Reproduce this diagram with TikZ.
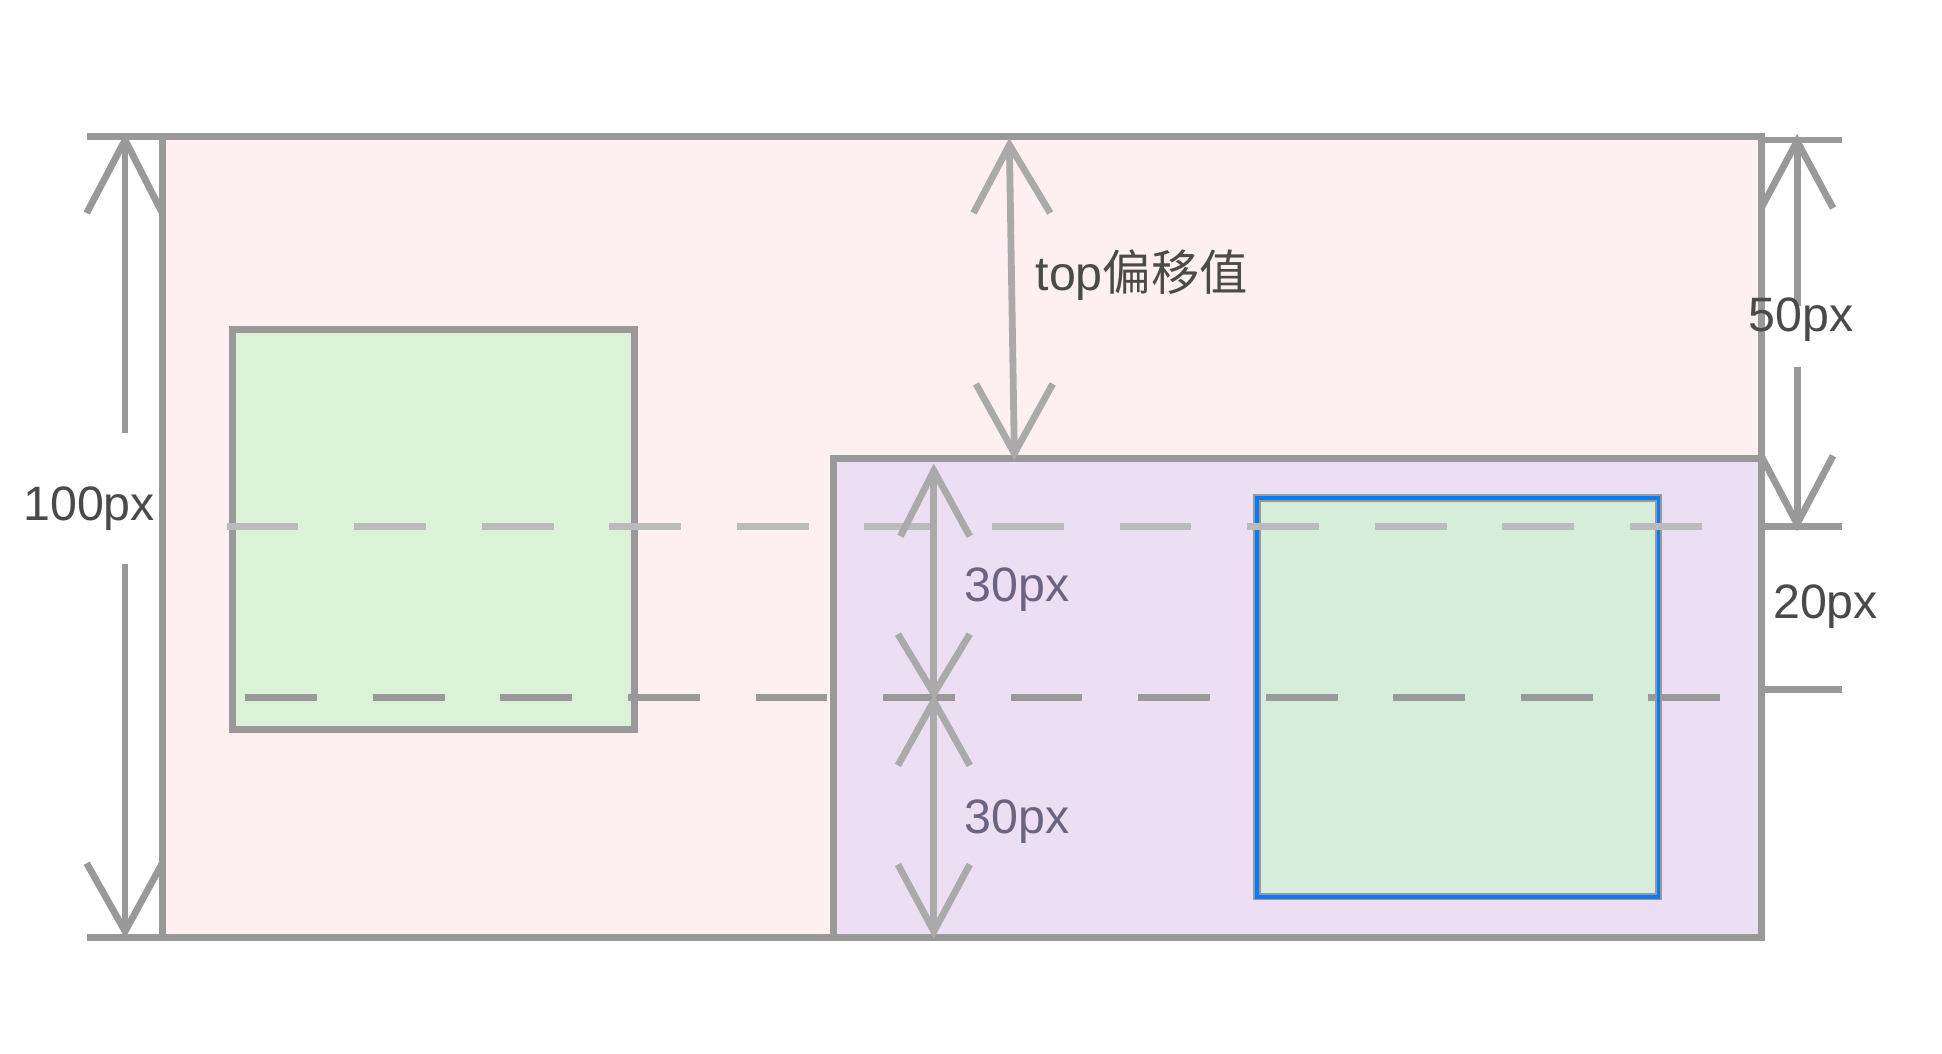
\documentclass[tikz,border=0pt]{standalone}
\usepackage{fontspec}
\setmainfont{Liberation Sans}
\newfontfamily\cjk{Noto Sans CJK SC}
\definecolor{edge}{HTML}{999999}
\definecolor{lightdash}{HTML}{BBBBBB}
\definecolor{arrowc}{HTML}{AAAAAA}
\definecolor{pinkf}{HTML}{FEF0F0}
\definecolor{purplef}{HTML}{ECDFF4}
\definecolor{greenA}{HTML}{DBF2D9}
\definecolor{greenB}{HTML}{D6EDD9}
\definecolor{blueb}{HTML}{0A7BF5}
\definecolor{txt}{HTML}{4A4A4A}
\definecolor{txtp}{HTML}{6B6480}
\begin{document}
\begin{tikzpicture}[x=1pt,y=-1pt,
  boxline/.style={draw=edge,line width=5.5pt},
  dimline/.style={draw=edge,line width=5.5pt},
  dimarrow/.style={draw=arrowc,line width=5.5pt},
  vee/.style={line join=miter,miter limit=20},
  darkdash/.style={draw=edge,line width=5.5pt,dash pattern=on 58pt off 45pt},
  lightdashed/.style={draw=lightdash,line width=5.5pt,dash pattern=on 58pt off 45pt},
  lbl/.style={text=txt,font=\fontsize{39}{46}\selectfont,inner sep=0pt},
  lblp/.style={text=txtp,font=\fontsize{39}{46}\selectfont,inner sep=0pt}]
\useasboundingbox (0,0) rectangle (1568,851);
% corners
\coordinate (outerTL) at (131,110);
\coordinate (outerBR) at (1422,757);
\coordinate (gaTL) at (188,266);
\coordinate (gaBR) at (512,589);
\coordinate (purTL) at (673,370);
\coordinate (purBR) at (1422,757);
\coordinate (gbTL) at (1015,402);
\coordinate (gbBR) at (1339,724);
% fills
\fill[pinkf] (outerTL) rectangle (outerBR);
\fill[greenA] (gaTL) rectangle (gaBR);
\fill[purplef] (purTL) rectangle (purBR);
\fill[greenB] (gbTL) rectangle (gbBR);
% dark dashed line
\coordinate (dkL) at (198,563);
\coordinate (dkR) at (1395,563);
\draw[darkdash] (dkL) -- (dkR);
% strokes
\draw[boxline] (70,110) -- (1422,110) -- (1422,757) -- (70,757);
\draw[boxline] (131,110) -- (131,757);
\draw[boxline] (gaTL) rectangle (gaBR);
\draw[boxline] (purTL) rectangle (purBR);
\draw[draw=edge,line width=6pt] (gbTL) rectangle (gbBR);
\draw[draw=blueb,line width=3pt] (gbTL) rectangle (gbBR);
% light dashed line
\coordinate (ltL) at (183,425);
\coordinate (ltR) at (1380,425);
\draw[lightdashed] (ltL) -- (ltR);
% left dimension 100px
\node[lbl] (t100) at (72,411) {100px};
\coordinate (lTop) at (101,113);
\coordinate (lBot) at (101,752);
\draw[dimline] (lTop) -- (101,350);
\draw[dimline] (101,455) -- (lBot);
\draw[dimline,vee] (70,172) -- (lTop) -- (131,172);
\draw[dimline,vee] (70,697) -- (lBot) -- (131,697);
% top offset
\coordinate (oTop) at (815,117);
\coordinate (oBot) at (819,366);
\draw[dimarrow] (oTop) -- (oBot);
\draw[dimarrow,vee] (786,172) -- (oTop) -- (848,172);
\draw[dimarrow,vee] (788,310) -- (oBot) -- (850,310);
\node[lbl,anchor=west] (toff) at (836,222) {top{\cjk 偏移值}};
% inner 30px arrows
\coordinate (iTop) at (754,380);
\coordinate (iMidA) at (754,560);
\coordinate (iMidB) at (754,566);
\coordinate (iBot) at (754,752);
\draw[dimarrow] (iTop) -- (iMidA);
\draw[dimarrow] (iMidB) -- (iBot);
\draw[dimarrow,vee] (727,433) -- (iTop) -- (783,433);
\draw[dimarrow,vee] (725,512) -- (iMidA) -- (783,512);
\draw[dimarrow,vee] (725,618) -- (iMidB) -- (783,618);
\draw[dimarrow,vee] (725,698) -- (iBot) -- (783,698);
\node[lblp] (t30a) at (821,476) {30px};
\node[lblp] (t30b) at (821,663) {30px};
% right dimensions
\coordinate (rA) at (1487,113);
\coordinate (rB) at (1487,425);
\coordinate (rC) at (1487,557);
\draw[dimline] (1422,113) -- (rA);
\draw[dimline] (1422,425) -- (rB);
\draw[dimline] (1422,557) -- (rC);
\coordinate (rTop) at (1451,114);
\coordinate (rBot) at (1451,423);
\draw[dimline] (rTop) -- (1451,247);
\draw[dimline] (1451,296) -- (rBot);
\draw[dimline,vee] (1422,168) -- (rTop) -- (1480,168);
\draw[dimline,vee] (1422,368) -- (rBot) -- (1480,368);
\node[lbl] (t50) at (1454,258) {50px};
\node[lbl] (t20) at (1474,490) {20px};
\end{tikzpicture}
\end{document}
